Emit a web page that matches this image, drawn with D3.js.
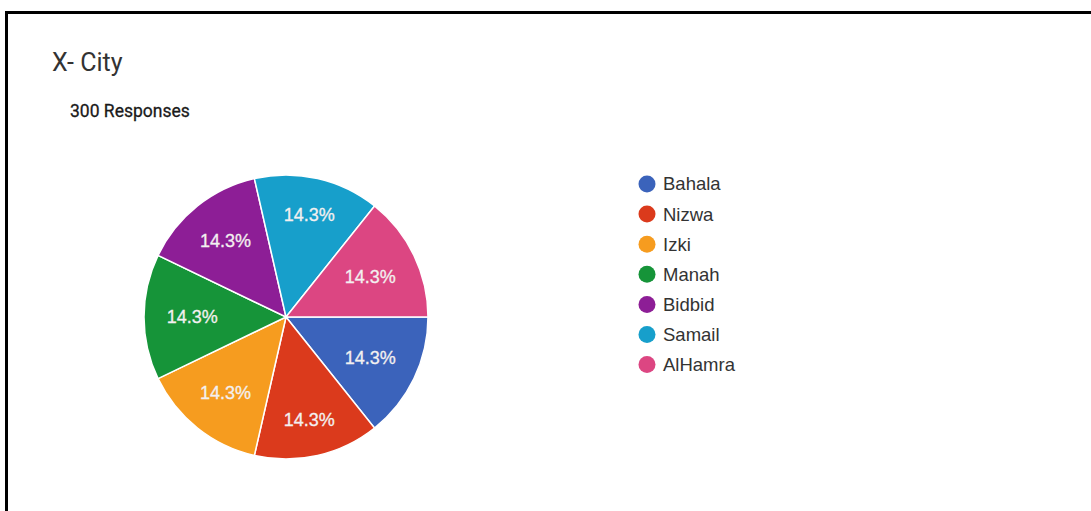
<!DOCTYPE html>
<html>
<head>
<meta charset="utf-8">
<script src="https://cdn.jsdelivr.net/npm/d3@7"></script>
<style>
  html, body { margin: 0; padding: 0; background: #fff; }
  svg { display: block; }
</style>
</head>
<body>
<svg id="chart" width="1091" height="511"></svg>
<script>
// Survey question: which city the respondent lives in
const title = "X- City";
const responsesLabel = "300 Responses";
const cities = ["Bahala", "Nizwa", "Izki", "Manah", "Bidbid", "Samail", "AlHamra"];
const shares = [14.3, 14.3, 14.3, 14.3, 14.3, 14.3, 14.3];
const palette = ["#3b63bb", "#db3a1c", "#f69c1f", "#169439", "#8d1e96", "#179fcb", "#dc4682"];

const svg = d3.select("#chart");

// Frame lines along the top and left edges
svg.append("line").attr("x1", 5).attr("x2", 1091).attr("y1", 12.5).attr("y2", 12.5)
  .attr("stroke", "#000").attr("stroke-width", 3);
svg.append("line").attr("x1", 6.5).attr("x2", 6.5).attr("y1", 11).attr("y2", 511)
  .attr("stroke", "#000").attr("stroke-width", 3);

svg.append("text").attr("x", 52).attr("y", 71)
  .attr("font-family", "Roboto, Arial, sans-serif").attr("font-size", 25)
  .attr("fill", "#333").text(title);
svg.append("text").attr("x", 70).attr("y", 117)
  .attr("font-family", "Roboto, Arial, sans-serif").attr("font-size", 17.5)
  .attr("fill", "#1a1a1a").attr("stroke", "#1a1a1a").attr("stroke-width", 0.3)
  .text(responsesLabel);

// Pie, starting at 3 o'clock and running clockwise
const cx = 286, cy = 317, radius = 142;
const color = d3.scaleOrdinal().domain(cities).range(palette);
const pie = d3.pie().value(d => d.v).sort(null)
  .startAngle(Math.PI / 2).endAngle(Math.PI / 2 + 2 * Math.PI);
const data = cities.map((c, i) => ({ c, v: shares[i] }));
const arcs = pie(data);
const arc = d3.arc().innerRadius(0).outerRadius(radius);

const g = svg.append("g").attr("transform", `translate(${cx},${cy})`);
g.selectAll("path").data(arcs).join("path")
  .attr("d", arc)
  .attr("fill", d => color(d.data.c))
  .attr("stroke", "#fff").attr("stroke-width", 1.5);

// Slice labels: pushed outward along the bisector as far as the text box
// still fits inside an inner circle
const labelFont = 18, fitRadius = 119.5;
const labels = g.selectAll("text").data(arcs).join("text")
  .attr("text-anchor", "middle").attr("dy", "0.35em")
  .attr("font-family", "Arial, 'Liberation Sans', sans-serif").attr("font-size", labelFont)
  .attr("fill", "#f3f0f0").attr("stroke", "#f3f0f0").attr("stroke-width", 0.3)
  .text(d => d.data.v.toFixed(1) + "%");
labels.each(function(d) {
  const hw = this.getComputedTextLength() / 2, hh = labelFont * 0.38;
  const a = (d.startAngle + d.endAngle) / 2;
  const ux = Math.sin(a), uy = -Math.cos(a);
  let lo = 0, hi = radius;
  for (let k = 0; k < 40; k++) {
    const r = (lo + hi) / 2;
    const fx = Math.abs(r * ux) + hw, fy = Math.abs(r * uy) + hh;
    if (Math.hypot(fx, fy) <= fitRadius) lo = r; else hi = r;
  }
  d3.select(this).attr("transform", `translate(${lo * ux},${lo * uy})`);
});

// Legend
const legend = svg.append("g").attr("transform", "translate(647,184)");
const rows = legend.selectAll("g").data(cities).join("g")
  .attr("transform", (d, i) => `translate(0,${i * 30.1})`);
rows.append("circle").attr("r", 8.5).attr("fill", d => color(d));
rows.append("text").attr("x", 16).attr("dy", "0.35em")
  .attr("font-family", "Arial, 'Liberation Sans', sans-serif").attr("font-size", 18.5)
  .attr("fill", "#333").text(d => d);
</script>
</body>
</html>
